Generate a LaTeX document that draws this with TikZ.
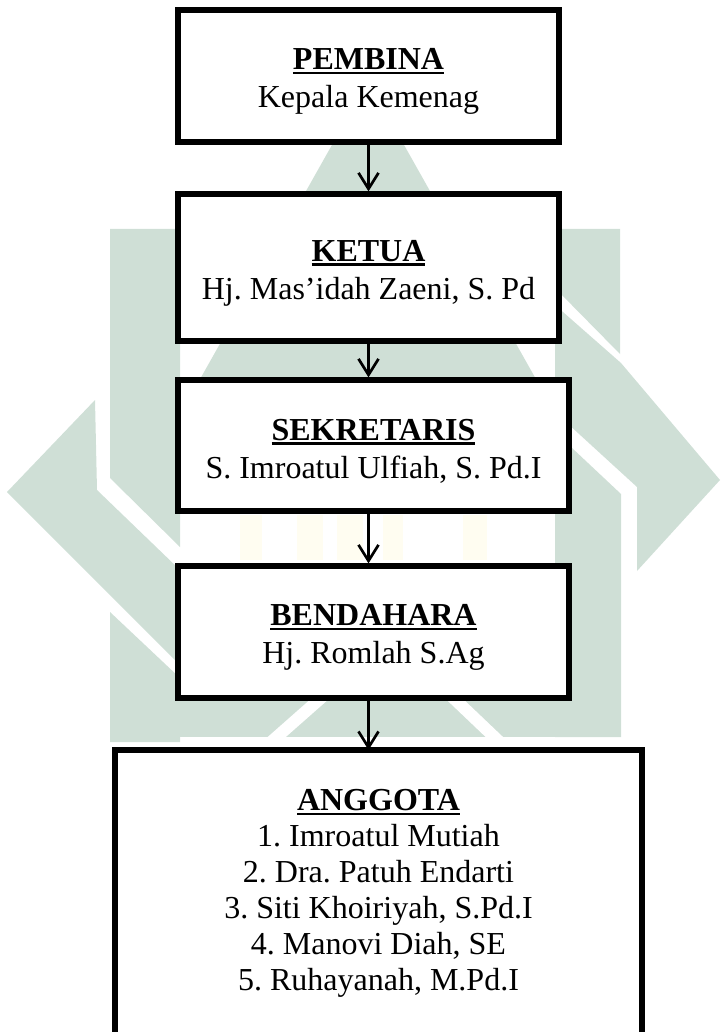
\documentclass[tikz,border=0pt]{standalone}
\usepackage{fontspec}
\setmainfont{Liberation Serif}
\usetikzlibrary{arrows.meta,positioning}
\definecolor{logohijau}{RGB}{207,223,214}
\definecolor{logokuning}{RGB}{255,253,241}
\newsavebox\jabbox
\newcommand{\jabatan}[1]{\sbox\jabbox{\bfseries #1}\rule{0pt}{16pt}\rlap{\rule[-2.4pt]{\wd\jabbox}{1.4pt}}\usebox\jabbox}
\frenchspacing

\begin{document}
\begin{tikzpicture}
	[
	x=0.5pt, y=-0.5pt,
  > = {Straight Barb[length=8pt,width=10pt]},
  kotak/.style = {draw,line width=2.6pt,fill=white,align=center,inner sep=0pt,font=\fontsize{16}{19}\selectfont},
  panah/.style = {->,line width=1.35pt},
  logo/.style = {fill=logohijau}
  ]
	\path[use as bounding box,clip] (0,0) rectangle (721,1032);

	% watermark
	\fill[logo] (368,81) -- (559,420) -- (177,420) -- cycle;
	\fill[logo] (110,229) -- (180,229) -- (180,547) -- (110,478) -- cycle;
	\fill[logo] (95,400) -- (7,492) -- (180,665) -- (180,570) -- (97,490) -- cycle;
	\fill[logo] (110,612) -- (180,678) -- (180,742) -- (110,742) -- cycle;
	\fill[logo] (555,229) -- (620,229) -- (620,354) -- (555,288) -- cycle;
	\fill[logo] (555,305) -- (621,363) -- (720,480) -- (637,571) -- (637,487) -- (555,412) -- cycle;
	\fill[logo] (555,432) -- (621,494) -- (621,737) -- (555,737) -- cycle;
	\fill[logo] (180,640) rectangle (555,737);
	\draw[white,line width=6pt] (330,690) -- (262,750);
	\draw[white,line width=6pt] (445,690) -- (508,750);
	\foreach \xa/\xb in {240/262,297/323,337/363,383/403,463/487}
		\fill[logokuning] (\xa,515) rectangle (\xb,560);

	\coordinate (p) at (368.5,76);
	\coordinate (k) at (368.5,267.5);
	\coordinate (s) at (373.5,445.5);
	\coordinate (b) at (373.5,632);
	\coordinate (a) at (378.5,888);

	\node[kotak,minimum width=190.5pt,minimum height=66pt] (pembina) at (p)
		{\jabatan{PEMBINA}\\Kepala Kemenag};
	\node[kotak,minimum width=190.5pt,minimum height=73.5pt] (ketua) at (k)
		{\jabatan{KETUA}\\Hj. Mas’idah Zaeni, S. Pd};
	\node[kotak,minimum width=195.5pt,minimum height=65.5pt] (sekretaris) at (s)
		{\jabatan{SEKRETARIS}\\S. Imroatul Ulfiah, S. Pd.I};
	\node[kotak,minimum width=195.5pt,minimum height=66pt] (bendahara) at (b)
		{\jabatan{BENDAHARA}\\Hj. Romlah S.Ag};
	\node[kotak,draw=none,outer sep=0pt,minimum width=263.5pt,minimum height=138pt,
		font=\fontsize{16}{18}\selectfont] (anggota) at (a)
		{\jabatan{ANGGOTA}\\1. Imroatul Mutiah\\2. Dra. Patuh Endarti\\3. Siti Khoiriyah, S.Pd.I\\4. Manovi Diah, SE\\5. Ruhayanah, M.Pd.I};
	\draw[line width=2.6pt] (anggota.south west) ++(0,40) |- (anggota.north east) -- ++(0,300);

	\draw[panah] (pembina) -- (ketua);
	\draw[panah] (ketua.south) -- (ketua.south |- sekretaris.north);
	\draw[panah] (sekretaris.south -| ketua.south) -- (bendahara.north -| ketua.south);
	\draw[panah] (bendahara.south -| ketua.south) -- (anggota.north -| ketua.south);
\end{tikzpicture}
\end{document}
